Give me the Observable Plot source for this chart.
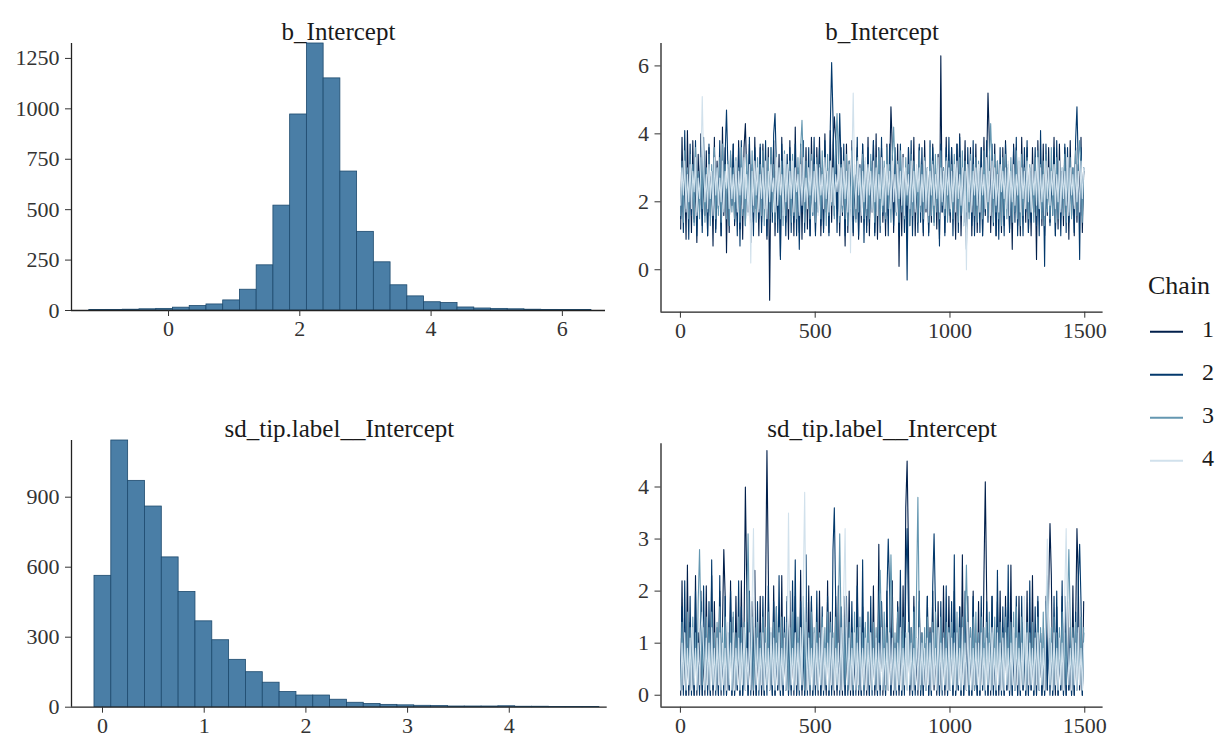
<!DOCTYPE html>
<html><head><meta charset="utf-8">
<script src="https://cdn.jsdelivr.net/npm/d3@7"></script>
<script src="https://cdn.jsdelivr.net/npm/@observablehq/plot@0.6"></script>
<style>
body{margin:0;background:#fff;}
#root{position:relative;width:1225px;height:743px;background:#fff;font-family:"Liberation Serif","DejaVu Serif",serif;}
.panel{position:absolute;}
#root svg, #root svg text{font-family:"Liberation Serif","DejaVu Serif",serif !important;}
</style></head><body><div id="root"></div>
<script>
// ---------- data ----------
const chains = ["1","2","3","4"];
const chainColors = ["#011f4b","#03396c","#6497b1","#d1e1ec"];
const iterStep = 5; // thinned trace: one stored draw every 5 iterations

const bInterceptTitle = "b_Intercept";
const sdTitle = "sd_tip.label__Intercept";

// histogram bins (start, width) and counts
const bHistStart = -1.207, bHistWidth = 0.255;
const bHistCounts = [2,3,4,6,8,14,22,30,50,103,224,520,972,1324,1151,689,390,239,125,70,41,37,15,10,8,6,4,3,2,2];
const sdHistStart = -0.079, sdHistWidth = 0.1655;
const sdHistCounts = [563,1143,970,860,642,494,368,287,203,150,105,65,50,50,32,19,14,10,8,6,5,3,3,3,4,2,2,1,1,1];

// tick labels
const bHistXTicks = [0,2,4,6];
const bHistYTicks = [0,250,500,750,1000,1250];
const sdHistXTicks = [0,1,2,3,4];
const sdHistYTicks = [0,300,600,900];
const traceXTicks = [0,500,1000,1500];
const bTraceYTicks = [0,2,4,6];
const sdTraceYTicks = [0,1,2,3,4];

// trace values, b_Intercept (300 per chain)
const bTrace1 = [
1.2,3.9,1.7,2.9,0.9,4.1,1.8,3.1,1.1,3.8,1.5,2.8,0.8,3.4,1.9,4.0,1.3,3.0,1.6,3.5,
1.0,3.6,1.7,2.9,0.7,3.9,1.2,3.2,1.8,2.8,1.0,4.2,1.6,3.6,0.5,3.0,1.1,3.4,1.9,3.7,
1.3,2.9,1.6,3.8,1.2,3.1,0.9,3.6,4.3,2.8,1.7,3.7,0.8,3.0,1.4,3.9,1.8,2.9,1.0,3.6,
1.4,3.7,1.9,3.0,0.9,3.6,-0.9,3.3,1.7,3.8,1.0,2.9,1.5,3.4,0.4,3.9,1.8,3.1,1.4,2.8,
0.9,3.8,1.6,3.0,1.0,4.2,1.8,2.9,1.1,3.7,0.9,3.2,1.7,3.6,1.2,2.8,1.0,3.9,1.9,3.1,
1.1,3.6,1.8,3.9,1.0,3.0,1.2,4.0,1.7,2.9,1.1,4.1,1.4,3.7,4.5,3.8,1.8,3.1,1.0,3.6,
1.6,2.9,0.7,3.7,1.1,3.2,1.8,3.8,1.0,2.8,1.5,3.6,0.9,3.0,1.4,3.7,1.9,3.1,1.3,3.9,
1.0,3.2,1.7,3.8,1.1,4.0,0.9,2.9,1.8,3.6,1.4,3.0,1.0,3.7,1.6,2.8,4.8,3.6,1.1,3.1,
1.7,3.7,0.1,3.0,1.0,3.4,1.8,2.9,0.9,3.6,1.3,3.0,1.9,3.9,1.0,2.8,1.4,3.6,1.7,3.1,
1.0,3.8,1.7,3.0,1.1,2.9,1.4,3.7,1.8,3.1,1.2,3.4,0.9,6.3,1.7,3.0,1.1,3.9,1.6,2.8,
1.4,3.6,1.8,2.9,0.9,3.7,1.6,4.0,1.0,3.0,1.9,3.8,1.1,2.8,1.7,3.6,1.0,3.1,1.4,3.7,
1.1,2.9,1.8,3.6,1.0,3.9,1.6,3.0,5.2,3.8,1.1,2.9,1.7,3.7,1.0,3.2,1.8,2.8,1.1,3.6,
1.3,3.8,1.9,3.0,1.2,2.9,0.6,3.7,1.7,3.6,1.3,2.8,1.0,3.9,1.8,3.1,1.4,3.6,1.1,2.9,
1.0,3.6,1.7,2.9,0.3,3.8,1.8,3.0,1.3,3.7,1.0,2.8,1.6,3.6,1.4,3.0,1.9,3.9,1.0,3.2,
1.2,3.7,1.8,2.9,1.3,3.6,1.7,3.0,0.9,3.8,1.6,2.8,1.0,3.6,1.4,3.1,1.8,3.9,1.1,2.9];
const bTrace2 = [
1.5,3.0,1.1,4.1,1.8,2.9,0.9,3.7,1.6,3.1,1.4,3.8,1.0,2.8,1.7,3.6,1.1,3.9,1.8,3.0,
1.0,3.7,1.6,2.9,1.5,3.6,1.1,3.0,1.8,3.8,1.0,2.8,1.7,3.4,4.7,3.1,1.3,2.9,1.9,3.7,
1.4,2.8,1.0,3.6,0.7,3.8,1.7,3.0,1.3,2.9,1.9,3.9,1.4,3.1,1.0,3.6,1.8,2.8,1.5,3.7,
1.1,3.0,1.8,3.8,1.0,2.9,1.6,3.6,1.4,4.0,4.6,3.1,1.1,2.8,0.3,3.7,1.7,3.0,1.0,3.4,
1.8,3.6,1.1,2.9,1.4,3.7,1.0,3.0,0.6,2.8,1.7,3.8,1.1,3.0,1.9,3.6,1.0,2.9,1.6,3.9,
1.0,3.1,1.7,3.6,1.3,2.9,1.1,3.8,1.8,3.0,1.0,4.2,6.1,4.5,1.6,3.8,1.1,2.9,4.6,3.1,
1.8,3.7,1.0,2.9,1.6,3.0,1.4,3.6,1.1,2.8,1.9,3.9,1.0,3.1,1.7,3.7,0.8,2.9,1.1,3.6,
1.4,3.0,1.8,3.8,1.0,2.9,1.7,3.6,1.1,3.9,1.6,2.8,1.4,3.1,1.0,3.7,1.8,2.9,1.3,3.6,
1.7,2.9,1.0,3.7,1.8,3.0,1.1,2.8,-0.3,3.6,1.6,3.8,1.0,3.0,1.9,2.9,1.1,3.7,1.4,3.6,
1.1,3.0,1.8,2.9,1.0,3.8,1.6,3.6,1.4,2.8,1.9,3.1,0.7,3.7,1.7,2.9,1.0,3.6,1.8,3.9,
1.6,3.6,1.0,2.9,1.8,3.7,1.1,3.9,1.7,3.0,1.4,2.8,0.6,3.6,1.9,3.0,1.3,3.8,1.0,2.9,
1.8,3.0,1.1,3.6,1.0,2.9,1.7,3.8,1.4,2.8,1.9,3.7,1.3,3.1,1.0,2.9,0.9,3.6,1.7,3.0,
1.0,3.7,1.8,3.0,1.1,2.8,1.6,3.6,1.4,3.9,1.0,3.0,1.9,2.9,1.0,3.6,1.7,3.8,1.1,3.0,
1.4,2.8,1.9,3.6,1.3,3.0,1.0,4.1,1.7,2.9,0.1,3.7,1.8,3.0,1.3,2.8,1.6,3.6,1.0,3.8,
1.7,3.0,1.0,2.9,1.8,3.7,1.1,3.6,1.4,2.8,1.9,3.0,1.1,3.8,4.8,3.1,0.3,3.6,1.6,3.0];
const bTrace3 = [
1.6,3.2,1.4,3.5,1.8,3.0,1.5,3.4,1.9,3.1,1.3,3.6,1.7,2.9,1.5,3.3,1.8,3.5,1.4,3.0,
1.7,3.4,1.3,3.1,1.9,3.6,1.5,3.0,1.6,3.3,1.4,3.7,1.8,3.1,1.5,3.2,1.3,3.5,1.7,3.0,
1.5,3.3,1.8,3.0,1.4,3.6,1.6,3.2,1.3,3.4,1.9,3.1,1.5,3.5,1.7,2.9,1.4,3.3,1.8,3.1,
1.6,3.5,1.3,3.0,1.8,3.3,1.5,3.6,1.7,3.1,1.4,3.4,1.9,3.0,1.5,3.2,1.3,3.5,1.6,3.1,
1.8,3.2,1.4,3.4,1.6,3.0,1.5,3.3,1.7,3.6,4.4,3.1,1.4,3.2,1.8,3.0,1.5,3.4,1.6,3.1,
1.4,3.3,1.7,3.1,1.5,3.5,1.8,3.0,1.3,3.4,1.6,3.2,1.9,3.0,1.5,3.6,4.6,3.3,1.4,3.1,
1.7,3.0,1.5,3.4,1.3,3.2,1.8,3.5,1.6,3.1,1.4,3.3,1.7,3.0,1.9,3.4,1.5,3.2,1.6,3.0,
1.5,3.4,1.8,3.1,1.4,3.3,1.6,3.5,1.3,3.0,1.7,3.2,1.5,3.6,1.8,3.1,1.4,3.3,4.2,3.0,
1.6,3.2,1.4,3.5,1.7,3.0,1.5,3.3,1.9,3.1,1.3,3.4,1.6,3.2,1.8,3.0,1.4,3.5,1.7,3.1,
1.5,3.3,1.8,3.0,1.4,3.6,1.6,3.2,1.3,3.4,1.7,3.1,1.5,3.5,1.9,3.0,1.6,3.3,1.4,3.2,
1.7,3.1,1.5,3.4,1.8,3.0,1.4,3.3,1.6,3.5,1.3,3.2,1.7,3.0,1.5,3.4,1.9,3.1,1.6,3.3,
1.4,3.2,1.7,3.0,1.5,3.5,1.8,3.1,1.6,3.3,4.3,3.0,1.4,3.4,1.7,3.2,1.5,3.0,1.3,3.3,
1.6,3.4,1.5,3.1,1.8,3.3,1.4,3.0,1.7,3.5,1.5,3.2,1.3,3.4,1.6,3.0,1.8,3.3,1.5,3.1,
1.7,3.0,1.4,3.3,1.6,3.5,1.8,3.1,1.5,3.2,1.3,3.4,1.7,3.0,1.5,3.6,1.6,3.1,1.4,3.3,
1.5,3.2,1.8,3.0,1.6,3.4,1.4,3.1,1.7,3.3,1.5,3.0,1.9,3.5,1.6,3.1,3.8,3.2,1.4,3.0];
const bTrace4 = [
1.9,3.0,2.2,3.2,1.7,2.8,2.0,3.1,1.8,2.9,2.3,3.3,1.6,2.7,2.1,3.0,5.1,3.2,2.0,2.8,
1.8,3.1,2.1,2.9,1.6,3.3,2.2,3.0,1.9,2.7,2.0,3.2,1.7,2.9,2.4,3.1,1.8,3.0,2.1,2.8,
2.0,3.2,1.7,2.9,2.2,3.0,1.8,3.3,2.1,2.8,1.6,3.1,0.2,2.9,1.9,3.2,2.2,3.0,1.7,2.8,
2.1,3.0,1.8,3.2,1.5,2.9,2.0,3.1,2.3,2.7,1.7,3.3,1.9,3.0,2.2,2.8,1.6,3.4,2.0,3.1,
1.8,2.9,2.1,3.2,1.7,3.0,2.3,2.8,1.6,3.1,1.9,3.3,2.0,2.7,1.8,3.0,2.2,3.2,1.7,2.9,
2.0,3.1,1.6,3.0,2.2,2.8,1.8,3.3,2.1,2.9,1.7,3.2,2.0,3.0,1.9,2.8,2.3,3.1,1.6,3.0,
1.9,3.2,2.1,2.9,1.7,3.1,0.5,3.0,5.2,2.8,1.8,3.2,2.2,3.0,1.6,2.9,2.0,3.3,1.8,3.1,
2.2,2.9,1.7,3.2,2.0,3.0,1.6,2.8,2.1,3.3,1.9,3.0,1.7,3.1,2.2,2.9,1.8,3.2,2.0,2.8,
1.7,3.1,2.1,2.9,1.9,3.3,1.6,3.0,2.2,2.8,1.8,3.2,2.0,2.9,1.7,3.1,2.3,3.0,1.9,2.8,
2.0,3.2,1.8,3.0,1.6,2.9,2.2,3.1,1.9,2.8,2.1,3.3,1.7,3.0,2.0,2.9,1.8,3.2,2.2,3.0,
1.8,2.9,2.0,3.1,1.7,3.2,2.1,2.8,1.9,3.0,1.3,2.9,0.0,3.1,2.0,3.2,1.7,2.9,2.2,3.0,
1.9,3.1,1.7,3.0,2.2,2.8,1.8,3.3,2.0,2.9,1.6,3.2,2.1,3.0,1.9,2.8,1.7,3.1,2.3,2.9,
2.1,3.0,1.8,3.2,1.6,2.9,2.0,3.1,1.9,2.8,2.2,3.3,1.7,3.0,2.1,2.9,1.8,3.2,2.0,3.0,
1.7,3.1,2.2,2.9,1.9,3.3,1.8,3.0,2.0,2.8,1.6,3.2,2.1,3.0,1.9,2.9,2.2,3.1,1.8,2.8,
2.0,3.2,1.7,3.0,2.1,2.9,1.9,3.3,1.6,3.0,2.2,2.8,1.8,3.1,2.0,2.9,1.7,3.2,2.1,3.0];

// trace values, sd_tip.label__Intercept (300 per chain)
const sdTrace1 = [
0.0,2.2,0.1,1.0,0.0,2.5,0.0,1.4,0.1,0.9,0.0,2.3,0.0,1.2,0.1,2.0,0.0,0.8,0.0,2.1,
0.1,1.1,0.0,2.3,0.0,1.8,0.1,0.9,0.0,2.0,0.0,1.3,2.8,1.9,0.0,1.0,0.1,2.2,0.0,1.5,
0.0,1.9,0.1,0.9,0.0,2.2,0.0,1.2,4.0,2.1,0.0,1.0,0.1,1.8,0.0,2.4,0.0,1.1,0.1,1.9,
0.0,1.2,0.0,2.0,4.7,2.4,0.1,0.9,0.0,2.1,0.0,1.7,0.1,1.0,0.0,2.3,0.0,1.3,0.1,1.8,
0.0,2.0,0.1,1.1,0.0,1.9,0.0,0.9,0.1,2.4,0.0,1.4,0.0,1.0,0.1,2.1,0.0,1.8,0.0,1.2,
0.1,0.9,0.0,2.0,0.0,1.3,0.1,1.0,0.0,2.2,0.0,1.6,0.1,0.8,0.0,1.9,0.0,2.1,0.1,1.1,
0.0,1.9,0.0,1.0,0.1,2.0,0.0,1.3,0.0,0.9,0.1,2.5,0.0,1.2,0.0,1.7,0.1,0.9,0.0,1.6,
0.0,1.2,0.1,2.1,0.0,1.0,0.0,2.9,0.1,1.8,0.0,0.9,0.0,2.0,0.1,1.3,0.0,2.2,0.0,1.0,
0.1,1.8,0.0,1.1,0.0,2.1,0.1,3.6,4.5,2.8,0.0,1.3,0.0,1.9,0.1,0.9,0.0,2.0,0.0,1.2,
0.0,1.0,0.1,1.9,0.0,1.3,0.0,2.0,0.1,0.9,0.0,1.8,0.0,1.1,0.1,2.1,0.0,1.4,0.0,1.9,
0.1,1.2,0.0,2.0,0.0,0.9,0.1,1.7,0.0,2.7,0.0,1.0,0.1,1.9,0.0,1.3,0.0,2.0,0.1,0.9,
0.0,1.8,0.0,1.1,0.1,2.3,4.1,2.0,0.0,1.2,0.0,1.9,0.1,0.9,0.0,1.8,0.0,2.0,0.1,1.3,
0.0,1.9,0.1,1.0,0.0,2.5,0.0,1.2,0.1,0.9,0.0,1.9,0.0,1.4,0.1,1.0,0.0,2.0,0.0,1.3,
0.1,2.3,0.0,1.0,0.0,1.8,0.1,1.2,0.0,0.9,0.0,1.9,0.1,2.0,3.3,2.3,0.0,1.1,0.0,1.7,
0.0,1.2,0.1,1.9,0.0,1.0,0.0,1.8,0.1,0.9,0.0,2.1,0.0,1.3,3.2,2.2,0.1,1.0,0.0,1.8];
const sdTrace2 = [
0.1,1.7,0.0,2.2,0.0,1.0,0.1,1.9,0.0,1.2,0.0,2.0,0.1,0.9,0.0,1.8,0.0,2.1,0.1,1.1,
0.0,1.8,0.0,2.6,0.1,1.0,0.0,1.3,0.0,2.3,0.1,0.9,0.0,1.9,0.0,1.2,0.1,2.0,0.0,1.0,
0.0,1.1,0.1,2.2,0.0,1.7,0.0,0.9,0.1,1.4,0.0,2.0,0.0,1.0,0.1,1.5,0.0,1.8,0.0,1.2,
0.1,1.9,0.0,1.0,0.0,2.1,0.1,1.2,0.0,1.8,0.0,0.9,0.1,2.3,0.0,1.1,0.0,1.5,0.1,1.9,
0.0,1.0,0.0,2.2,0.1,2.6,0.0,1.1,0.0,1.8,0.1,0.9,0.0,2.7,0.0,1.2,0.1,1.9,0.0,1.0,
0.0,2.0,0.1,1.1,0.0,1.7,0.0,0.9,0.1,1.9,0.0,1.2,0.0,2.8,3.6,1.8,0.1,1.0,0.0,1.7,
0.1,1.2,0.0,1.9,0.0,1.0,0.1,1.8,0.0,1.1,0.0,2.1,0.1,0.9,0.0,2.6,0.0,1.3,0.1,1.0,
0.0,1.9,0.0,1.1,0.1,0.9,0.0,2.0,0.0,1.8,0.1,1.0,0.0,1.9,3.0,2.0,0.0,1.2,0.1,0.9,
0.0,1.7,0.1,2.4,0.0,1.1,0.0,2.2,3.2,1.6,0.1,0.9,0.0,1.7,0.0,1.1,0.1,1.8,0.0,1.0,
0.0,1.0,0.1,1.9,0.0,1.2,0.0,2.1,3.1,1.7,0.1,0.9,0.0,1.8,0.0,1.1,0.1,2.1,0.0,1.3,
0.1,1.8,0.0,2.7,0.0,1.0,0.1,1.7,0.0,1.2,0.0,2.0,0.1,0.9,0.0,1.3,0.0,1.9,0.1,1.0,
0.0,1.2,0.0,1.9,0.1,1.0,0.0,1.8,0.0,1.1,0.1,1.9,0.0,0.9,0.0,2.4,0.1,1.2,0.0,1.7,
0.0,1.7,0.1,2.5,0.0,1.1,0.0,0.9,0.1,1.9,0.0,1.2,0.0,1.9,0.1,1.0,0.0,1.3,0.0,2.2,
0.1,1.0,0.0,1.7,0.0,1.9,0.1,1.2,0.0,0.9,0.0,1.8,0.1,1.1,0.0,1.0,0.0,1.9,0.1,2.0,
0.0,1.1,0.1,2.2,0.0,1.9,0.0,1.0,0.1,1.3,0.0,0.9,0.0,1.6,0.1,2.2,2.9,1.8,0.0,1.2];
const sdTrace3 = [
0.1,1.4,0.2,1.2,0.1,1.6,0.2,1.3,0.1,1.5,0.2,1.2,0.1,1.8,2.8,1.4,0.2,1.3,0.1,1.5,
0.2,1.3,0.1,1.6,0.2,1.2,0.1,1.4,0.2,1.7,0.1,1.3,0.2,1.5,0.1,1.2,0.2,1.4,0.1,1.6,
0.1,1.2,0.2,1.5,0.1,1.3,0.2,1.4,0.1,1.6,3.1,1.2,0.2,1.5,0.1,1.3,0.2,1.4,0.1,1.2,
0.2,1.5,0.1,1.3,0.2,1.6,0.1,1.2,0.2,1.4,0.1,1.7,0.2,1.3,0.1,1.5,0.2,1.2,0.1,1.4,
0.1,1.3,0.2,1.6,0.1,1.2,0.2,1.5,0.1,1.3,0.2,1.9,0.1,1.4,0.2,1.2,0.1,1.6,0.2,1.3,
0.2,1.4,0.1,1.2,0.2,1.5,0.1,1.3,0.2,1.6,0.1,1.4,0.2,1.2,0.1,1.5,0.2,1.5,3.1,1.3,
0.1,1.5,0.2,1.3,0.1,1.4,0.2,1.2,0.1,1.6,0.2,1.3,0.1,1.5,0.2,1.2,0.1,1.4,0.2,1.6,
0.2,1.2,0.1,1.4,0.2,1.3,0.1,1.5,2.4,1.2,0.2,1.6,0.1,1.3,0.2,1.4,2.7,1.5,0.1,1.2,
0.1,1.6,0.2,1.3,0.1,1.5,0.2,1.2,0.1,1.4,0.2,1.3,0.1,1.6,0.2,2.0,3.8,1.4,0.1,1.2,
0.2,1.3,0.1,1.5,0.2,1.2,0.1,1.4,0.2,1.6,0.1,1.3,0.2,1.5,0.1,1.2,0.2,1.4,0.1,1.3,
0.1,1.4,0.2,1.2,0.1,1.6,0.2,1.3,0.1,1.5,0.2,1.4,2.5,1.2,0.1,1.3,0.2,1.5,0.1,1.6,
0.2,1.2,0.1,1.5,0.2,1.3,0.1,1.4,0.2,1.6,0.1,1.2,0.2,1.5,0.1,1.3,0.2,1.4,0.1,1.2,
0.1,1.5,0.2,1.3,0.1,1.4,0.2,1.6,0.1,1.7,0.2,1.2,0.1,1.5,0.2,1.3,0.1,1.4,0.2,1.2,
0.2,1.4,0.1,1.2,0.2,1.5,0.1,1.3,0.2,1.6,0.1,1.2,2.3,1.4,0.2,1.3,0.1,1.5,0.2,1.2,
0.1,1.3,0.2,1.6,0.1,1.2,0.2,1.7,2.8,1.5,0.1,1.3,0.2,1.4,0.1,1.2,0.2,1.5,0.1,1.3];
const sdTrace4 = [
0.1,1.0,0.2,1.2,0.1,0.9,0.2,1.1,0.1,1.3,0.2,0.9,0.1,1.0,0.2,1.2,1.6,0.9,0.1,1.1,
0.2,1.0,0.1,1.3,0.2,0.9,0.1,1.1,0.2,1.2,0.1,1.0,0.2,0.9,0.1,1.4,0.2,1.0,0.1,1.2,
0.1,0.9,0.2,1.1,0.1,1.0,0.2,1.3,0.1,0.9,0.2,1.2,0.1,1.8,3.2,1.0,0.2,1.1,0.1,0.9,
0.2,1.2,0.1,1.0,0.2,0.9,0.1,1.3,0.2,1.1,0.1,1.0,0.2,1.2,0.1,0.9,0.2,1.1,0.1,1.0,
3.5,1.1,0.2,0.9,0.1,1.2,0.2,1.0,0.1,1.3,0.2,2.2,3.9,1.0,0.1,1.1,0.2,0.9,0.1,1.2,
0.2,1.0,0.1,1.1,0.2,1.3,0.1,0.9,0.2,1.0,0.1,1.2,0.2,1.1,0.1,0.9,0.2,1.0,0.1,1.3,
0.1,2.0,3.2,1.0,0.2,1.1,0.1,0.9,0.2,1.2,0.1,1.0,0.2,1.3,0.1,0.9,0.2,1.1,0.1,1.0,
0.2,1.2,0.1,0.9,0.2,1.1,0.1,1.0,0.2,1.3,0.1,0.9,0.2,1.0,0.1,1.2,0.2,1.1,0.1,0.9,
0.1,1.0,0.2,1.3,0.1,0.9,0.2,1.1,0.1,1.2,0.2,1.0,0.1,0.9,0.2,1.1,0.1,1.3,0.2,1.0,
0.2,0.9,0.1,1.1,0.2,1.0,0.1,1.2,0.2,0.9,0.1,1.3,0.2,1.0,0.1,1.1,0.2,0.9,0.1,1.2,
0.1,1.1,0.2,1.0,0.1,1.2,0.2,0.9,0.1,1.3,0.2,1.0,0.1,1.4,0.2,1.1,0.1,0.9,0.2,1.0,
0.2,1.0,0.1,1.2,0.2,0.9,0.1,1.1,0.2,1.0,0.1,1.3,0.2,0.9,0.1,1.2,0.2,1.0,0.1,1.1,
0.1,1.2,0.2,0.9,0.1,1.0,0.2,1.3,0.1,1.1,0.2,0.9,0.1,1.0,0.2,1.9,0.1,1.2,0.2,1.0,
0.2,0.9,0.1,1.1,0.2,1.2,0.1,1.0,0.2,0.9,0.1,1.6,3.0,1.1,0.2,1.0,0.1,1.2,0.2,0.9,
0.1,1.1,0.2,1.0,0.1,2.0,3.2,1.2,0.2,0.9,0.1,1.1,0.2,1.0,0.1,1.3,0.2,0.9,0.1,1.0];

// ---------- drawing ----------
const FONT = '"Liberation Serif", "DejaVu Serif", serif';
const root = document.getElementById("root");
const place = (node, left, top) => {
  node.classList.add("panel");
  node.style.left = left + "px";
  node.style.top = top + "px";
  root.appendChild(node);
};
const fmt = d => String(d);

function axesMarks(xDomain, yDomain, xTicks, yTicks, title, titleDy) {
  return [
    Plot.ruleX([xDomain[0]], {stroke: "#222", strokeWidth: 1.3}),
    Plot.ruleY([yDomain[0]], {stroke: "#222", strokeWidth: 1.3}),
    Plot.axisX({ticks: xTicks, tickFormat: fmt, tickSize: 6, tickPadding: 4, label: null, fontSize: 22, stroke: "#333", fill: "#333"}),
    Plot.axisY({ticks: yTicks, tickFormat: fmt, tickSize: 6, tickPadding: 6, label: null, fontSize: 22, stroke: "#333", fill: "#333"}),
    Plot.text([title], {text: d => d, frameAnchor: "top", dy: titleDy, fontSize: 25, fill: "#1a1a1a"})
  ];
}

function histPanel(o) {
  const rows = o.counts.map((c, i) => ({x1: o.start + i * o.width, x2: o.start + (i + 1) * o.width, n: c}));
  return Plot.plot({
    width: o.w, height: o.h,
    marginLeft: o.ml, marginRight: o.mr, marginTop: o.mt, marginBottom: o.mb,
    style: {fontFamily: FONT, fontSize: "22px", color: "#333", background: "transparent", overflow: "visible"},
    x: {domain: o.xDomain}, y: {domain: o.yDomain},
    marks: [
      Plot.rectY(rows, {x1: "x1", x2: "x2", y: "n", fill: "#4a7ea6", stroke: "#1d4a6e", strokeWidth: 0.8}),
      ...axesMarks(o.xDomain, o.yDomain, o.xTicks, o.yTicks, o.title, o.titleDy)
    ]
  });
}

function tracePanel(o) {
  const rows = o.series.flatMap((vals, ci) => vals.map((v, i) => ({iter: 1 + i * iterStep, value: v, chain: chains[ci]})));
  return Plot.plot({
    width: o.w, height: o.h,
    marginLeft: o.ml, marginRight: o.mr, marginTop: o.mt, marginBottom: o.mb,
    style: {fontFamily: FONT, fontSize: "22px", color: "#333", background: "transparent", overflow: "visible"},
    x: {domain: o.xDomain}, y: {domain: o.yDomain},
    color: {domain: chains, range: chainColors},
    marks: [
      Plot.lineY(rows, {x: "iter", y: "value", z: "chain", stroke: "chain", strokeWidth: 1.1}),
      ...axesMarks(o.xDomain, o.yDomain, o.xTicks, o.yTicks, o.title, o.titleDy)
    ]
  });
}

place(histPanel({
  counts: bHistCounts, start: bHistStart, width: bHistWidth,
  w: 612, h: 340, ml: 71, mr: 7, mt: 43, mb: 30,
  xDomain: [-1.478, 6.657], yDomain: [0, 1324],
  xTicks: bHistXTicks, yTicks: bHistYTicks, title: bInterceptTitle, titleDy: -21
}), 0, 0);

place(tracePanel({
  series: [bTrace1, bTrace2, bTrace3, bTrace4],
  w: 500, h: 340, ml: 48.5, mr: 9.4, mt: 43, mb: 28.3,
  xDomain: [-72, 1568], yDomain: [-1.25, 6.66],
  xTicks: traceXTicks, yTicks: bTraceYTicks, title: bInterceptTitle, titleDy: -21
}), 612, 0);

place(histPanel({
  counts: sdHistCounts, start: sdHistStart, width: sdHistWidth,
  w: 612, h: 363, ml: 71, mr: 5.3, mt: 60, mb: 36.3,
  xDomain: [-0.305, 4.963], yDomain: [0, 1143],
  xTicks: sdHistXTicks, yTicks: sdHistYTicks, title: sdTitle, titleDy: -21
}), 0, 380);

place(tracePanel({
  series: [sdTrace1, sdTrace2, sdTrace3, sdTrace4],
  w: 500, h: 363, ml: 48.5, mr: 9.4, mt: 63.3, mb: 36.3,
  xDomain: [-72, 1568], yDomain: [-0.23, 4.83],
  xTicks: traceXTicks, yTicks: sdTraceYTicks, title: sdTitle, titleDy: -24.3
}), 612, 380);

// legend
const leg = d3.create("svg").attr("width", 90).attr("height", 220).style("font-family", FONT);
leg.append("text").attr("x", 8).attr("y", 28).attr("dominant-baseline", "middle")
  .attr("font-size", 26).attr("fill", "#1a1a1a").text("Chain");
chains.forEach((c, i) => {
  const y = 71.7 + i * 43;
  leg.append("line").attr("x1", 10).attr("x2", 43).attr("y1", y).attr("y2", y)
    .attr("stroke", chainColors[i]).attr("stroke-width", 2);
  leg.append("text").attr("x", 62).attr("y", y).attr("dominant-baseline", "middle")
    .attr("font-size", 24).attr("fill", "#1a1a1a").text(c);
});
place(leg.node(), 1140, 260);
</script>
</body></html>
